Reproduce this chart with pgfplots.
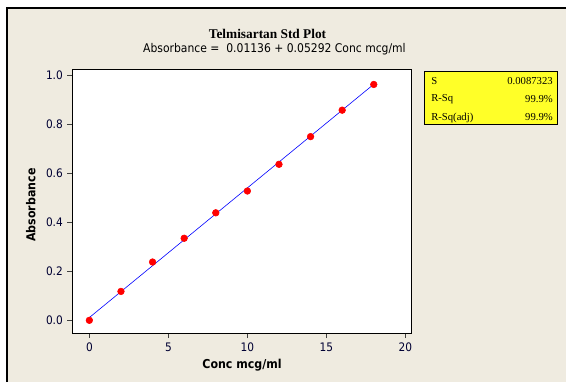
\documentclass[border=0pt]{standalone}
\usepackage{pgfplots}
\pgfplotsset{compat=1.18}
\usepackage{fontspec}
\setmainfont{Liberation Serif}
\newfontfamily\uisans{DejaVu Sans Condensed}

\definecolor{panel}{RGB}{239,235,224}
\definecolor{statbox}{RGB}{255,255,40}

\begin{document}
\begin{tikzpicture}[x=0.75pt,y=0.75pt]
% page and panel
\useasboundingbox (0,0) rectangle (566,382);
\fill[white] (0,0) rectangle (566,382);
\fill[panel] (7,0) rectangle (566,374);
\draw[black,line width=1.1pt] (7,0) -- (7,374) -- (566,374);

% titles
\node[font=\rmfamily\bfseries\fontsize{10pt}{12pt}\selectfont] at (267.5,348) {Telmisartan Std Plot};
\node[font=\uisans\fontsize{9pt}{11pt}\selectfont] at (274.5,332.5) {Absorbance =\ \ 0.01136 + 0.05292 Conc mcg/ml};

\begin{axis}[
  at={(54.225pt,36.525pt)}, anchor=south west,
  scale only axis,
  width=254.55pt, height=198.2pt,
  xmin=-1.08, xmax=20.4,
  ymin=-0.053, ymax=1.026,
  xtick={0,5,10,15,20},
  ytick={0,0.2,0.4,0.6,0.8,1.0},
  tick align=outside,
  tick pos=left,
  major tick length=3.6pt,
  axis background/.style={fill=white},
  axis line style={black,line width=0.7pt},
  tick style={black!75,line width=0.6pt},
  /pgf/number format/assume math mode=true,
  ticklabel style={font=\uisans\fontsize{8.8pt}{10pt}\selectfont, text=black!80!blue},
  yticklabel style={/pgf/number format/fixed,/pgf/number format/fixed zerofill,/pgf/number format/precision=1},
  xticklabel style={/pgf/number format/fixed},
  scaled y ticks=false,
  xlabel={Conc mcg/ml},
  ylabel={Absorbance},
  label style={font=\uisans\bfseries\fontsize{9.2pt}{11pt}\selectfont},
  xlabel style={at={(axis description cs:0.5,-0.12)},anchor=center},
  ylabel style={at={(axis description cs:-0.122,0.485)},anchor=center},
  clip=false,
]
% fitted regression line
\addplot[blue,line width=0.45pt] coordinates {(0,0.01136) (18,0.96392)};
% measured standards
\addplot[only marks,mark=*,mark size=2.5pt,color=red] coordinates {
  (0,0.000) (2,0.118) (4,0.238) (6,0.335) (8,0.439)
  (10,0.528) (12,0.637) (14,0.750) (16,0.858) (18,0.963)
};
\end{axis}

% regression summary box
\draw[black,line width=0.6pt,fill=statbox] (424.3,257.7) rectangle (557,311);
\begin{scope}[every node/.style={font=\rmfamily\fontsize{8pt}{9.6pt}\selectfont,inner sep=0pt}]
\node[anchor=west] at (431,301) {S};
\node[anchor=east] at (553,301) {0.0087323};
\node[anchor=west] at (431,282.5) {R-Sq};
\node[anchor=east] at (553,282.5) {99.9\%};
\node[anchor=west] at (431,264.5) {R-Sq(adj)};
\node[anchor=east] at (553,264.5) {99.9\%};
\end{scope}
\end{tikzpicture}
\end{document}
